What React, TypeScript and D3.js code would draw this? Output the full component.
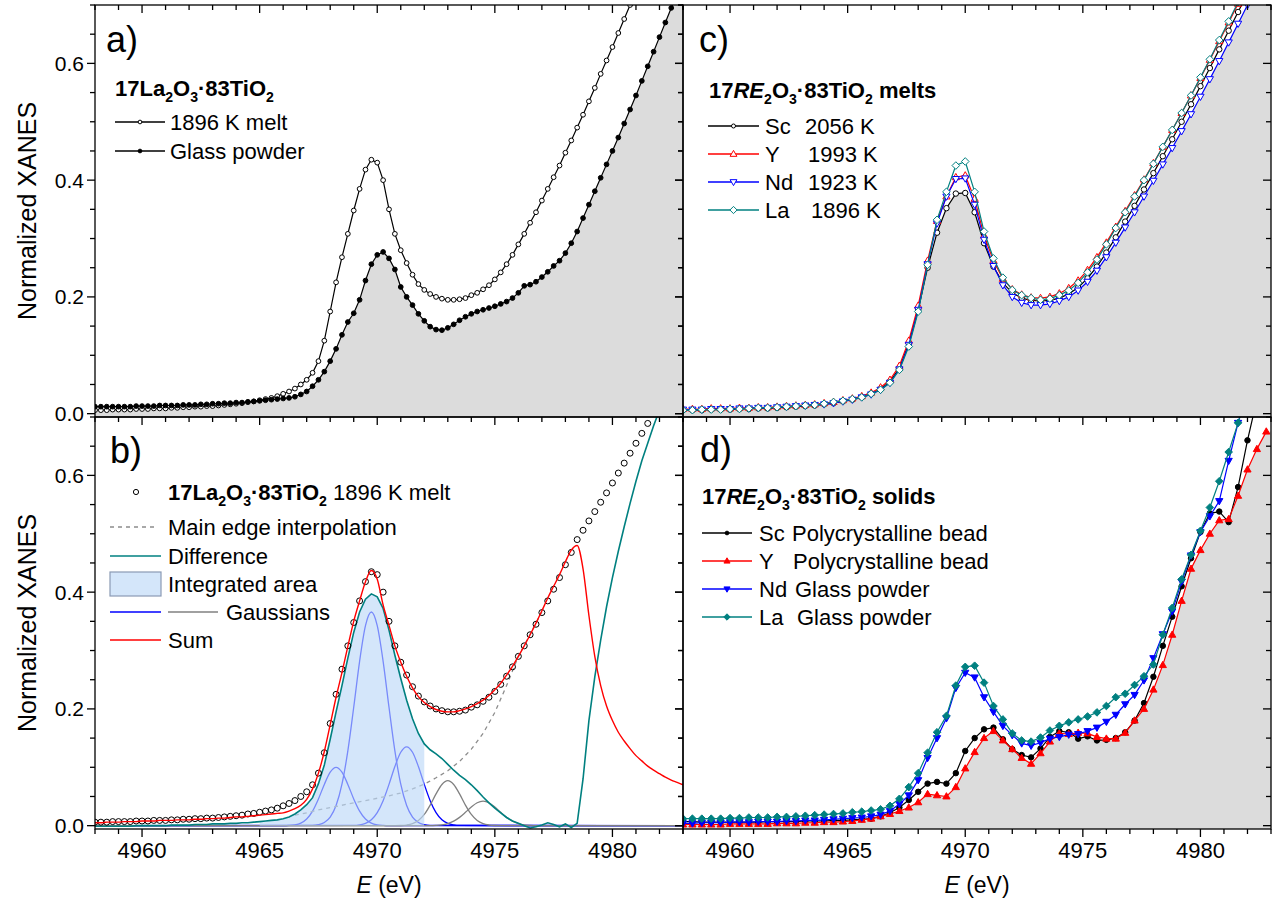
import React from "react";
import * as d3 from "d3";

// ---------------- data ----------------
const E_DOMAIN: [number, number] = [4958, 4983];
const V_DOMAIN: [number, number] = [-0.0057, 0.7];
const E_START = 4958;
const STEP_FINE = 0.25; // panels a, b
const STEP_COARSE = 0.4; // panels c, d

const xTickValues = [4960, 4965, 4970, 4975, 4980];
const yTickValues = [0.0, 0.2, 0.4, 0.6];
const yTickLabels = ["0.0", "0.2", "0.4", "0.6"];

// 17La2O3·83TiO2 1896 K melt (panel a)
const meltLa1896 = [
  0.006, 0.006, 0.006, 0.007, 0.007, 0.007, 0.007, 0.008, 0.008, 0.008,
  0.009, 0.009, 0.009, 0.010, 0.010, 0.011, 0.011, 0.012, 0.012, 0.013,
  0.013, 0.014, 0.015, 0.016, 0.017, 0.018, 0.020, 0.021, 0.023, 0.025,
  0.027, 0.030, 0.034, 0.038, 0.043, 0.050, 0.058, 0.070, 0.090, 0.125,
  0.175, 0.225, 0.268, 0.308, 0.348, 0.385, 0.418, 0.435, 0.430, 0.400,
  0.350, 0.308, 0.280, 0.258, 0.238, 0.222, 0.212, 0.205, 0.200, 0.197,
  0.195, 0.195, 0.196, 0.198, 0.203, 0.207, 0.213, 0.220, 0.230, 0.242,
  0.256, 0.272, 0.290, 0.308, 0.327, 0.345, 0.365, 0.385, 0.405, 0.425,
  0.447, 0.468, 0.490, 0.512, 0.535, 0.558, 0.582, 0.605, 0.628, 0.652,
  0.676, 0.700, 0.722,
];

// 17La2O3·83TiO2 1896 K melt as plotted in panel b (circles)
const fitData = [
  0.006, 0.006, 0.006, 0.007, 0.007, 0.007, 0.007, 0.008, 0.008, 0.008,
  0.009, 0.009, 0.009, 0.010, 0.010, 0.011, 0.011, 0.012, 0.012, 0.013,
  0.013, 0.014, 0.015, 0.016, 0.017, 0.018, 0.020, 0.021, 0.023, 0.025,
  0.027, 0.030, 0.034, 0.038, 0.043, 0.050, 0.058, 0.070, 0.090, 0.125,
  0.175, 0.225, 0.268, 0.308, 0.348, 0.385, 0.418, 0.435, 0.430, 0.400,
  0.350, 0.308, 0.280, 0.258, 0.238, 0.222, 0.212, 0.205, 0.200, 0.197,
  0.195, 0.195, 0.196, 0.198, 0.203, 0.207, 0.213, 0.220, 0.230, 0.242,
  0.256, 0.272, 0.290, 0.308, 0.327, 0.345, 0.365, 0.385, 0.405, 0.425,
  0.447, 0.468, 0.490, 0.506, 0.522, 0.538, 0.554, 0.570, 0.587, 0.604,
  0.621, 0.638, 0.655, 0.672, 0.689, 0.706,
];

// 17La2O3·83TiO2 glass powder (panel a)
const glassLa = [
  0.012, 0.012, 0.012, 0.012, 0.012, 0.012, 0.012, 0.013, 0.013, 0.013,
  0.013, 0.014, 0.014, 0.014, 0.014, 0.015, 0.015, 0.015, 0.016, 0.016,
  0.017, 0.017, 0.018, 0.018, 0.019, 0.019, 0.020, 0.021, 0.022, 0.023,
  0.024, 0.025, 0.026, 0.027, 0.029, 0.033, 0.038, 0.047, 0.058, 0.072,
  0.090, 0.111, 0.135, 0.157, 0.172, 0.195, 0.228, 0.256, 0.272, 0.277,
  0.266, 0.247, 0.217, 0.200, 0.186, 0.171, 0.159, 0.149, 0.144, 0.143,
  0.147, 0.153, 0.160, 0.166, 0.171, 0.175, 0.178, 0.181, 0.184, 0.188,
  0.192, 0.198, 0.207, 0.219, 0.221, 0.226, 0.234, 0.243, 0.253, 0.262,
  0.275, 0.292, 0.312, 0.335, 0.358, 0.381, 0.404, 0.427, 0.450, 0.473,
  0.497, 0.521, 0.545, 0.570, 0.595, 0.620, 0.645, 0.670, 0.695, 0.720,
];

// panel b: fit sum (red)
const fitSum = [
  0.005, 0.005, 0.006, 0.006, 0.006, 0.007, 0.007, 0.007, 0.008, 0.008,
  0.008, 0.009, 0.009, 0.009, 0.010, 0.010, 0.010, 0.011, 0.011, 0.012,
  0.012, 0.013, 0.013, 0.014, 0.015, 0.015, 0.016, 0.017, 0.018, 0.019,
  0.020, 0.021, 0.022, 0.025, 0.029, 0.035, 0.045, 0.063, 0.090, 0.127,
  0.173, 0.220, 0.262, 0.307, 0.350, 0.385, 0.418, 0.437, 0.422, 0.378,
  0.343, 0.308, 0.280, 0.256, 0.236, 0.221, 0.211, 0.204, 0.199, 0.196,
  0.195, 0.195, 0.197, 0.200, 0.204, 0.209, 0.215, 0.223, 0.233, 0.244,
  0.258, 0.273, 0.290, 0.308, 0.327, 0.347, 0.368, 0.390, 0.410, 0.430,
  0.452, 0.472, 0.480, 0.440, 0.360, 0.290, 0.240, 0.205, 0.180, 0.160,
  0.145, 0.132, 0.120, 0.111, 0.102, 0.095, 0.089, 0.083, 0.078, 0.074,
  0.070,
];

// panel b: difference (teal)
const fitDifference = [
  -0.001, -0.001, -0.001, -0.001, -0.001, -0.001, -0.001, 0.0, 0.0, 0.0,
  0.0, 0.0, 0.0, 0.001, 0.001, 0.001, 0.001, 0.002, 0.002, 0.002,
  0.003, 0.003, 0.003, 0.004, 0.004, 0.005, 0.005, 0.006, 0.007, 0.008,
  0.009, 0.010, 0.012, 0.015, 0.020, 0.027, 0.036, 0.048, 0.072, 0.104,
  0.148, 0.195, 0.240, 0.287, 0.331, 0.366, 0.388, 0.397, 0.392, 0.372,
  0.335, 0.292, 0.252, 0.215, 0.183, 0.158, 0.140, 0.130, 0.123, 0.115,
  0.105, 0.095, 0.086, 0.079, 0.070, 0.060, 0.049, 0.039, 0.030, 0.022,
  0.014, 0.008, 0.004, 0.0, -0.004, -0.002, 0.001, 0.005, 0.002, -0.002,
  0.003, -0.003, 0.004, 0.080, 0.180, 0.255, 0.318, 0.375, 0.425, 0.470,
  0.512, 0.552, 0.590, 0.625, 0.655, 0.685, 0.712,
];

// panel b: main edge interpolation (dashed)
const EDGE_START = 4966.5;
const EDGE_STEP = 0.5;
const edgeInterp = [
  0.018, 0.022, 0.027, 0.031, 0.035, 0.039, 0.043, 0.047, 0.051, 0.056,
  0.063, 0.071, 0.082, 0.094, 0.110, 0.131, 0.158, 0.194, 0.240, 0.290,
  0.328, 0.366,
];

// panel b: Gaussians (sampled, 0.25 eV)
const gaussStarts = [4966.0, 4967.25, 4969.0, 4970.75, 4972.25];
const gauss1 = [0.0001, 0.0004, 0.0014, 0.0044, 0.0114, 0.0249, 0.0458, 0.0707, 0.0917, 0.1, 0.0917, 0.0707, 0.0458, 0.0249, 0.0114, 0.0044, 0.0014, 0.0004, 0.0001];
const gauss2 = [0.0005, 0.0018, 0.0055, 0.0146, 0.0344, 0.071, 0.1281, 0.2028, 0.2815, 0.3426, 0.366, 0.3426, 0.2815, 0.2028, 0.1281, 0.071, 0.0344, 0.0146, 0.0055, 0.0018, 0.0005];
const gauss3 = [0.0004, 0.0014, 0.004, 0.0102, 0.0224, 0.0428, 0.0707, 0.1013, 0.1257, 0.135, 0.1257, 0.1013, 0.0707, 0.0428, 0.0224, 0.0102, 0.004, 0.0014, 0.0004];
const gauss4 = [0.0001, 0.0003, 0.0011, 0.0034, 0.0088, 0.0192, 0.0353, 0.0544, 0.0706, 0.077, 0.0706, 0.0544, 0.0353, 0.0192, 0.0088, 0.0034, 0.0011, 0.0003, 0.0001];
const gauss5 = [0.0002, 0.0006, 0.0015, 0.0037, 0.0078, 0.0142, 0.0228, 0.032, 0.0393, 0.042, 0.0393, 0.032, 0.0228, 0.0142, 0.0078, 0.0037, 0.0015, 0.0006, 0.0002];
const AREA_FROM = 4965;
const AREA_TO = 4972;

// panel c: melts (0.4 eV grid)
const meltSc = [
  0.006, 0.006, 0.006, 0.007, 0.007, 0.007, 0.008, 0.008, 0.009, 0.009,
  0.010, 0.011, 0.012, 0.013, 0.014, 0.016, 0.018, 0.021, 0.024, 0.028,
  0.034, 0.042, 0.055, 0.078, 0.120, 0.178, 0.250, 0.310, 0.352, 0.377,
  0.378, 0.345, 0.292, 0.252, 0.224, 0.207, 0.198, 0.194, 0.193, 0.194,
  0.198, 0.205, 0.216, 0.232, 0.252, 0.276, 0.302, 0.329, 0.356, 0.384,
  0.412, 0.441, 0.470, 0.500, 0.530, 0.561, 0.592, 0.624, 0.656, 0.688,
  0.720,
];
const meltY = [
  0.008, 0.008, 0.008, 0.009, 0.009, 0.009, 0.010, 0.010, 0.011, 0.011,
  0.012, 0.013, 0.014, 0.015, 0.016, 0.018, 0.020, 0.023, 0.026, 0.030,
  0.036, 0.045, 0.058, 0.082, 0.125, 0.185, 0.262, 0.330, 0.372, 0.405,
  0.408, 0.368, 0.305, 0.262, 0.231, 0.213, 0.204, 0.199, 0.198, 0.200,
  0.206, 0.215, 0.228, 0.246, 0.268, 0.293, 0.320, 0.347, 0.374, 0.401,
  0.429, 0.457, 0.486, 0.515, 0.545, 0.575, 0.606, 0.638, 0.670, 0.702,
];
const meltNd = [
  0.007, 0.007, 0.007, 0.008, 0.008, 0.008, 0.009, 0.009, 0.010, 0.010,
  0.011, 0.012, 0.013, 0.014, 0.015, 0.016, 0.018, 0.021, 0.024, 0.028,
  0.033, 0.041, 0.053, 0.076, 0.118, 0.178, 0.256, 0.326, 0.372, 0.402,
  0.403, 0.358, 0.298, 0.253, 0.220, 0.200, 0.190, 0.186, 0.186, 0.188,
  0.193, 0.200, 0.211, 0.226, 0.245, 0.268, 0.293, 0.319, 0.345, 0.372,
  0.399, 0.427, 0.455, 0.484, 0.513, 0.543, 0.573, 0.604, 0.636, 0.668,
  0.700, 0.733,
];
const meltLa = [
  0.006, 0.006, 0.007, 0.007, 0.007, 0.008, 0.008, 0.009, 0.010, 0.010,
  0.011, 0.012, 0.013, 0.014, 0.015, 0.017, 0.020, 0.022, 0.025, 0.028,
  0.034, 0.041, 0.053, 0.075, 0.115, 0.175, 0.255, 0.332, 0.380, 0.425,
  0.432, 0.380, 0.312, 0.266, 0.233, 0.212, 0.203, 0.198, 0.195, 0.197,
  0.203, 0.211, 0.224, 0.242, 0.264, 0.290, 0.318, 0.345, 0.372, 0.400,
  0.428, 0.457, 0.486, 0.515, 0.545, 0.576, 0.607, 0.640, 0.672, 0.705,
];

// panel d: solids (0.4 eV grid)
const solidSc = [
  0.007, 0.007, 0.006, 0.006, 0.006, 0.006, 0.006, 0.006, 0.006, 0.007,
  0.007, 0.007, 0.007, 0.008, 0.008, 0.008, 0.009, 0.009, 0.010, 0.011,
  0.012, 0.016, 0.022, 0.031, 0.044, 0.058, 0.072, 0.075, 0.072, 0.090,
  0.128, 0.150, 0.165, 0.168, 0.148, 0.131, 0.121, 0.117, 0.132, 0.152,
  0.162, 0.160, 0.149, 0.153, 0.146, 0.147, 0.150, 0.160, 0.180, 0.210,
  0.255, 0.308, 0.358, 0.410, 0.458, 0.503, 0.535, 0.538, 0.520, 0.580,
  0.660, 0.730,
];
const solidY = [
  0.002, 0.002, 0.002, 0.002, 0.002, 0.003, 0.003, 0.003, 0.003, 0.003,
  0.004, 0.004, 0.004, 0.005, 0.005, 0.006, 0.006, 0.007, 0.008, 0.010,
  0.012, 0.016, 0.020, 0.025, 0.031, 0.040, 0.054, 0.052, 0.050, 0.066,
  0.098, 0.126, 0.150, 0.162, 0.146, 0.131, 0.116, 0.106, 0.124, 0.144,
  0.158, 0.157, 0.159, 0.158, 0.152, 0.149, 0.149, 0.159, 0.180, 0.200,
  0.233, 0.275, 0.327, 0.385, 0.440, 0.472, 0.500, 0.523, 0.525, 0.565,
  0.610, 0.645, 0.675,
];
const solidNd = [
  0.004, 0.004, 0.005, 0.005, 0.005, 0.006, 0.006, 0.006, 0.007, 0.007,
  0.007, 0.008, 0.008, 0.009, 0.009, 0.010, 0.011, 0.012, 0.013, 0.014,
  0.016, 0.019, 0.025, 0.037, 0.052, 0.078, 0.116, 0.150, 0.184, 0.236,
  0.262, 0.254, 0.220, 0.195, 0.171, 0.155, 0.141, 0.137, 0.142, 0.149,
  0.152, 0.156, 0.157, 0.162, 0.168, 0.178, 0.190, 0.208, 0.224, 0.249,
  0.287, 0.328, 0.367, 0.418, 0.463, 0.503, 0.530, 0.556, 0.625, 0.690,
  0.750,
];
const solidLa = [
  0.012, 0.012, 0.012, 0.012, 0.012, 0.013, 0.013, 0.014, 0.014, 0.014,
  0.015, 0.015, 0.016, 0.017, 0.018, 0.019, 0.020, 0.021, 0.023, 0.024,
  0.026, 0.028, 0.034, 0.046, 0.066, 0.090, 0.125, 0.160, 0.188, 0.240,
  0.272, 0.274, 0.245, 0.205, 0.182, 0.158, 0.146, 0.144, 0.151, 0.163,
  0.171, 0.177, 0.182, 0.187, 0.194, 0.205, 0.220, 0.226, 0.241, 0.256,
  0.276, 0.327, 0.373, 0.422, 0.464, 0.505, 0.545, 0.590, 0.640, 0.690,
  0.740,
];

// ---------------- layout / style ----------------
const PX0 = 95, PX1 = 683, PX2 = 1271;
const PY0 = 5, PY1 = 417, PY2 = 829;
const FONT = '"Liberation Sans", Arial, Helvetica, sans-serif';
const TEAL = "#008080";
const RED = "#ff0000";
const BLUE = "#0000ff";
const GREY_FILL = "#dcdcdc";

type Pt = [number, number];

function toPoints(values: number[], start: number, step: number): Pt[] {
  return values.map((v, i) => [start + i * step, v] as Pt);
}

function minEnvelope(list: number[][], start: number, step: number): Pt[] {
  const n = Math.max(...list.map((a) => a.length));
  const pts: Pt[] = [];
  for (let i = 0; i < n; i++) {
    const vals = list.filter((a) => i < a.length).map((a) => a[i]);
    pts.push([start + i * step, Math.min(...vals)]);
  }
  const last = pts[pts.length - 1];
  pts.push([E_DOMAIN[1], last[1]]);
  return pts;
}

type Seg = { t: string; sub?: boolean; italic?: boolean; bold?: boolean };

function Rich({ x, y, segs, size }: { x: number; y: number; segs: Seg[]; size: number }) {
  let shifted = false;
  const parts = segs.map((s, i) => {
    let dy: number | undefined;
    if (s.sub && !shifted) {
      dy = size * 0.28;
      shifted = true;
    } else if (!s.sub && shifted) {
      dy = -size * 0.28;
      shifted = false;
    }
    return (
      <tspan
        key={i}
        dy={dy}
        fontSize={s.sub ? size * 0.64 : size}
        fontStyle={s.italic ? "italic" : "normal"}
        fontWeight={s.bold ? "bold" : "normal"}
        style={{ whiteSpace: "pre" }}
      >
        {s.t}
      </tspan>
    );
  });
  return (
    <text x={x} y={y} fontSize={size} style={{ whiteSpace: "pre" }}>
      {parts}
    </text>
  );
}

type MarkerKind = "circle" | "up" | "down" | "diamond";

function Marker({ kind, x, y, fill, stroke, size }: { kind: MarkerKind; x: number; y: number; fill: string; stroke: string; size: number }) {
  const s = size;
  if (kind === "circle") return <circle cx={x} cy={y} r={s * 0.72} fill={fill} stroke={stroke} strokeWidth={1} />;
  let d = "";
  if (kind === "up") d = `M${x},${y - s} L${x + s * 0.95},${y + s * 0.65} L${x - s * 0.95},${y + s * 0.65} Z`;
  if (kind === "down") d = `M${x},${y + s} L${x + s * 0.95},${y - s * 0.65} L${x - s * 0.95},${y - s * 0.65} Z`;
  if (kind === "diamond") d = `M${x},${y - s} L${x + s},${y} L${x},${y + s} L${x - s},${y} Z`;
  return <path d={d} fill={fill} stroke={stroke} strokeWidth={1} />;
}

function Frame({ x0, x1, y0, y1, xs, ys, bottom }: { x0: number; x1: number; y0: number; y1: number; xs: d3.ScaleLinear<number, number>; ys: d3.ScaleLinear<number, number>; bottom: boolean }) {
  const items: React.ReactNode[] = [];
  for (let e = E_DOMAIN[0]; e <= E_DOMAIN[1]; e++) {
    const major = e % 5 === 0;
    const L = major ? 8 : 5;
    const px = xs(e);
    items.push(<line key={`t${e}`} x1={px} x2={px} y1={y0} y2={y0 + L} />);
    if (bottom) items.push(<line key={`b${e}`} x1={px} x2={px} y1={y1} y2={y1 + L} />);
  }
  for (let k = 0; k <= 14; k++) {
    const v = k * 0.05;
    const major = k % 4 === 0;
    const L = major ? 8 : 5;
    const py = ys(v);
    items.push(<line key={`l${k}`} x1={x0 - L} x2={x0} y1={py} y2={py} />);
    items.push(<line key={`r${k}`} x1={x1 - L} x2={x1} y1={py} y2={py} />);
  }
  return (
    <g stroke="#000" strokeWidth={1.3} fill="none">
      {items}
      <rect x={x0} y={y0} width={x1 - x0} height={y1 - y0} />
    </g>
  );
}

function DataSeries({ pts, xs, ys, color, kind, filled, size, lineWidth = 1.2 }: { pts: Pt[]; xs: any; ys: any; color: string; kind: MarkerKind; filled: boolean; size: number; lineWidth?: number }) {
  const line = d3.line<Pt>().x((d) => xs(d[0])).y((d) => ys(d[1]));
  return (
    <g>
      <path d={line(pts) || ""} fill="none" stroke={color} strokeWidth={lineWidth} />
      {pts.map((p, i) => (
        <Marker key={i} kind={kind} x={xs(p[0])} y={ys(p[1])} fill={filled ? color : "#fff"} stroke={color} size={size} />
      ))}
    </g>
  );
}

function LegendRow({ x0, x1, y, color, kind, filled, size }: { x0: number; x1: number; y: number; color: string; kind: MarkerKind; filled: boolean; size: number }) {
  return (
    <g>
      <line x1={x0} x2={x1} y1={y} y2={y} stroke={color} strokeWidth={1.3} />
      <Marker kind={kind} x={(x0 + x1) / 2} y={y} fill={filled ? color : "#fff"} stroke={color} size={size} />
    </g>
  );
}

export default function App() {
  const xL = d3.scaleLinear().domain(E_DOMAIN).range([PX0, PX1]);
  const xR = d3.scaleLinear().domain(E_DOMAIN).range([PX1, PX2]);
  const yT = d3.scaleLinear().domain(V_DOMAIN).range([PY1, PY0]);
  const yB = d3.scaleLinear().domain(V_DOMAIN).range([PY2, PY1]);

  const greyArea = (xs: any, ys: any, pts: Pt[]) =>
    d3.area<Pt>().x((d) => xs(d[0])).y0(ys(V_DOMAIN[0])).y1((d) => ys(d[1]))(pts) || "";

  // panel a
  const aMelt = toPoints(meltLa1896, E_START, STEP_FINE);
  const aGlass = toPoints(glassLa, E_START, STEP_FINE);
  const aFill = minEnvelope([meltLa1896, glassLa], E_START, STEP_FINE);

  // panel b
  const bData = toPoints(fitData, E_START, STEP_FINE);
  const bSum = toPoints(fitSum, E_START, STEP_FINE);
  const bDiff = toPoints(fitDifference, E_START, STEP_FINE);
  const bEdge = toPoints(edgeInterp, EDGE_START, EDGE_STEP);
  const gaussArrays = [gauss1, gauss2, gauss3, gauss4, gauss5];
  const gaussPts = gaussArrays.map((g, i) => {
    const p = toPoints(g, gaussStarts[i], STEP_FINE);
    return [[E_DOMAIN[0], 0] as Pt, ...p, [E_DOMAIN[1], 0] as Pt];
  });
  const areaPts = bDiff.filter((p) => p[0] >= AREA_FROM - 1e-6 && p[0] <= AREA_TO + 1e-6);
  const smooth = d3.line<Pt>().x((d) => xL(d[0])).y((d) => yB(d[1])).curve(d3.curveMonotoneX);
  const straightB = d3.line<Pt>().x((d) => xL(d[0])).y((d) => yB(d[1]));
  const integratedArea = d3.area<Pt>().x((d) => xL(d[0])).y0(yB(0)).y1((d) => yB(d[1]))(areaPts) || "";

  // panel c
  const cSeries = [
    { v: meltSc, color: "#000", kind: "circle" as MarkerKind },
    { v: meltY, color: RED, kind: "up" as MarkerKind },
    { v: meltNd, color: BLUE, kind: "down" as MarkerKind },
    { v: meltLa, color: TEAL, kind: "diamond" as MarkerKind },
  ];
  const cFill = minEnvelope(cSeries.map((s) => s.v), E_START, STEP_COARSE);

  // panel d
  const dSeries = [
    { v: solidSc, color: "#000", kind: "circle" as MarkerKind },
    { v: solidY, color: RED, kind: "up" as MarkerKind },
    { v: solidNd, color: BLUE, kind: "down" as MarkerKind },
    { v: solidLa, color: TEAL, kind: "diamond" as MarkerKind },
  ];
  const dFill = minEnvelope(dSeries.map((s) => s.v), E_START, STEP_COARSE);

  const titleBase: Seg[] = [
    { t: "17La", bold: true },
    { t: "2", sub: true, bold: true },
    { t: "O", bold: true },
    { t: "3", sub: true, bold: true },
    { t: "·83TiO", bold: true },
    { t: "2", sub: true, bold: true },
  ];
  const titleRE = (suffix: string): Seg[] => [
    { t: "17", bold: true },
    { t: "RE", bold: true, italic: true },
    { t: "2", sub: true, bold: true },
    { t: "O", bold: true },
    { t: "3", sub: true, bold: true },
    { t: "·83TiO", bold: true },
    { t: "2", sub: true, bold: true },
    { t: suffix, bold: true },
  ];

  const LEG = 22;

  return (
    <svg
      width={1276}
      height={905}
      style={{ position: "absolute", left: 0, top: 0, background: "#fff" }}
      fontFamily={FONT}
    >
      <defs>
        <clipPath id="clipA"><rect x={PX0} y={PY0} width={PX1 - PX0} height={PY1 - PY0} /></clipPath>
        <clipPath id="clipB"><rect x={PX0} y={PY1} width={PX1 - PX0} height={PY2 - PY1} /></clipPath>
        <clipPath id="clipC"><rect x={PX1} y={PY0} width={PX2 - PX1} height={PY1 - PY0} /></clipPath>
        <clipPath id="clipD"><rect x={PX1} y={PY1} width={PX2 - PX1} height={PY2 - PY1} /></clipPath>
      </defs>
      <rect x={0} y={0} width={1276} height={905} fill="#fff" />

      {/* ---------- panel a ---------- */}
      <g clipPath="url(#clipA)">
        <path d={greyArea(xL, yT, aFill)} fill={GREY_FILL} />
        <DataSeries pts={aMelt} xs={xL} ys={yT} color="#000" kind="circle" filled={false} size={3.3} />
        <DataSeries pts={aGlass} xs={xL} ys={yT} color="#000" kind="circle" filled={true} size={3.3} />
      </g>

      {/* ---------- panel b ---------- */}
      <g clipPath="url(#clipB)">
        {gaussPts.slice(0, 3).map((g, i) => (
          <path key={`gb${i}`} d={smooth(g) || ""} fill="none" stroke={BLUE} strokeWidth={1.3} />
        ))}
        {gaussPts.slice(3).map((g, i) => (
          <path key={`gg${i}`} d={smooth(g) || ""} fill="none" stroke="#808080" strokeWidth={1.3} />
        ))}
        <path d={straightB(bEdge) || ""} fill="none" stroke="#8c8c8c" strokeWidth={1.3} strokeDasharray="4,4" />
        <path d={integratedArea} fill="#bbd8f7" fillOpacity={0.64} />
        <path d={straightB(bDiff) || ""} fill="none" stroke={TEAL} strokeWidth={1.6} />
        {bData.map((p, i) => (
          <circle key={i} cx={xL(p[0])} cy={yB(p[1])} r={3} fill="none" stroke="#000" strokeWidth={1} />
        ))}
        <path d={smooth(bSum) || ""} fill="none" stroke={RED} strokeWidth={1.4} />
      </g>

      {/* ---------- panel c ---------- */}
      <g clipPath="url(#clipC)">
        <path d={greyArea(xR, yT, cFill)} fill={GREY_FILL} />
        {cSeries.map((s, i) => (
          <DataSeries key={i} pts={toPoints(s.v, E_START, STEP_COARSE)} xs={xR} ys={yT} color={s.color} kind={s.kind} filled={false} size={3.8} />
        ))}
      </g>

      {/* ---------- panel d ---------- */}
      <g clipPath="url(#clipD)">
        <path d={greyArea(xR, yB, dFill)} fill={GREY_FILL} />
        {dSeries.map((s, i) => (
          <DataSeries key={i} pts={toPoints(s.v, E_START, STEP_COARSE)} xs={xR} ys={yB} color={s.color} kind={s.kind} filled={true} size={3.8} />
        ))}
      </g>

      {/* ---------- frames ---------- */}
      <Frame x0={PX0} x1={PX1} y0={PY0} y1={PY1} xs={xL} ys={yT} bottom={false} />
      <Frame x0={PX0} x1={PX1} y0={PY1} y1={PY2} xs={xL} ys={yB} bottom={true} />
      <Frame x0={PX1} x1={PX2} y0={PY0} y1={PY1} xs={xR} ys={yT} bottom={false} />
      <Frame x0={PX1} x1={PX2} y0={PY1} y1={PY2} xs={xR} ys={yB} bottom={true} />

      {/* ---------- tick labels ---------- */}
      <g fontSize={21} textAnchor="end" fill="#000">
        {yTickValues.map((v, i) => (
          <text key={`ya${i}`} x={84} y={yT(v) + 7.5}>{yTickLabels[i]}</text>
        ))}
        {yTickValues.map((v, i) => (
          <text key={`yb${i}`} x={84} y={yB(v) + 7.5}>{yTickLabels[i]}</text>
        ))}
      </g>
      <g fontSize={22} textAnchor="middle" fill="#000">
        {xTickValues.map((e) => (
          <text key={`xl${e}`} x={xL(e)} y={858}>{e}</text>
        ))}
        {xTickValues.map((e) => (
          <text key={`xr${e}`} x={xR(e)} y={858}>{e}</text>
        ))}
      </g>

      {/* ---------- axis titles ---------- */}
      <text transform={`translate(36,${(PY0 + PY1) / 2}) rotate(-90)`} textAnchor="middle" fontSize={25}>Normalized XANES</text>
      <text transform={`translate(36,${(PY1 + PY2) / 2}) rotate(-90)`} textAnchor="middle" fontSize={25}>Normalized XANES</text>
      <text x={(PX0 + PX1) / 2} y={893} textAnchor="middle" fontSize={23} style={{ whiteSpace: "pre" }}>
        <tspan fontStyle="italic">E</tspan> (eV)
      </text>
      <text x={(PX1 + PX2) / 2} y={893} textAnchor="middle" fontSize={23} style={{ whiteSpace: "pre" }}>
        <tspan fontStyle="italic">E</tspan> (eV)
      </text>

      {/* ---------- panel labels ---------- */}
      <g fontSize={36}>
        <text x={106} y={52}>a)</text>
        <text x={110} y={463}>b)</text>
        <text x={699} y={52}>c)</text>
        <text x={700} y={462}>d)</text>
      </g>

      {/* ---------- legend a ---------- */}
      <Rich x={115} y={96} size={LEG} segs={titleBase} />
      <LegendRow x0={115} x1={165} y={122} color="#000" kind="circle" filled={false} size={2.6} />
      <text x={170} y={130} fontSize={LEG}>1896 K melt</text>
      <LegendRow x0={115} x1={165} y={151} color="#000" kind="circle" filled={true} size={2.6} />
      <text x={170} y={159} fontSize={LEG}>Glass powder</text>

      {/* ---------- legend b ---------- */}
      <circle cx={136} cy={492} r={2.6} fill="none" stroke="#000" strokeWidth={1} />
      <Rich x={168} y={500} size={LEG} segs={[...titleBase, { t: " 1896 K melt" }]} />
      <line x1={110} x2={155} y1={527} y2={527} stroke="#8c8c8c" strokeWidth={1.3} strokeDasharray="4,4" />
      <text x={168} y={535} fontSize={LEG}>Main edge interpolation</text>
      <line x1={110} x2={161} y1={556} y2={556} stroke={TEAL} strokeWidth={1.6} />
      <text x={168} y={564} fontSize={LEG}>Difference</text>
      <rect x={110} y={572} width={51} height={24} fill="#d4e6fa" stroke="#8a9ab4" strokeWidth={1.2} />
      <text x={168} y={592} fontSize={LEG}>Integrated area</text>
      <line x1={110} x2={161} y1={612} y2={612} stroke={BLUE} strokeWidth={1.3} />
      <line x1={168} x2={218} y1={612} y2={612} stroke="#808080" strokeWidth={1.3} />
      <text x={226} y={620} fontSize={LEG}>Gaussians</text>
      <line x1={110} x2={161} y1={640} y2={640} stroke={RED} strokeWidth={1.4} />
      <text x={168} y={648} fontSize={LEG}>Sum</text>

      {/* ---------- legend c ---------- */}
      <Rich x={709} y={98} size={LEG} segs={titleRE(" melts")} />
      {[
        { y: 126, c: "#000", k: "circle" as MarkerKind, n: "Sc", t: "2056 K", tx: 805 },
        { y: 154, c: RED, k: "up" as MarkerKind, n: "Y", t: "1993 K", tx: 808 },
        { y: 182, c: BLUE, k: "down" as MarkerKind, n: "Nd", t: "1923 K", tx: 808 },
        { y: 210, c: TEAL, k: "diamond" as MarkerKind, n: "La", t: "1896 K", tx: 811 },
      ].map((r, i) => (
        <g key={`lc${i}`}>
          <LegendRow x0={708} x1={759} y={r.y} color={r.c} kind={r.k} filled={false} size={r.k === "circle" ? 2.8 : 3.6} />
          <text x={765} y={r.y + 8} fontSize={LEG}>{r.n}</text>
          <text x={r.tx} y={r.y + 8} fontSize={LEG}>{r.t}</text>
        </g>
      ))}

      {/* ---------- legend d ---------- */}
      <Rich x={702} y={504} size={LEG} segs={titleRE(" solids")} />
      {[
        { y: 533, c: "#000", k: "circle" as MarkerKind, n: "Sc", t: "Polycrystalline bead", tx: 792 },
        { y: 561, c: RED, k: "up" as MarkerKind, n: "Y", t: "Polycrystalline bead", tx: 793 },
        { y: 589, c: BLUE, k: "down" as MarkerKind, n: "Nd", t: "Glass powder", tx: 795 },
        { y: 617, c: TEAL, k: "diamond" as MarkerKind, n: "La", t: "Glass powder", tx: 797 },
      ].map((r, i) => (
        <g key={`ld${i}`}>
          <LegendRow x0={702} x1={752} y={r.y} color={r.c} kind={r.k} filled={true} size={r.k === "circle" ? 2.6 : 3.2} />
          <text x={759} y={r.y + 8} fontSize={LEG}>{r.n}</text>
          <text x={r.tx} y={r.y + 8} fontSize={LEG}>{r.t}</text>
        </g>
      ))}
    </svg>
  );
}
